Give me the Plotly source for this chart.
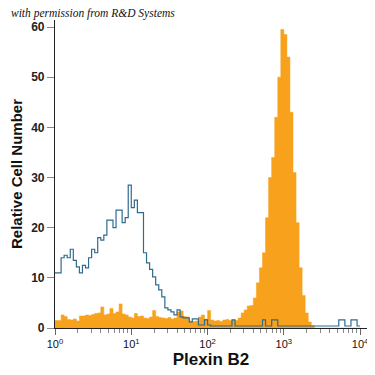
import numpy as np
import plotly.graph_objects as go

# log10 bin width (decades) and histogram counts
bin_width = 0.04
isotype_counts = [
    11, 11, 14, 14.5, 14, 15.7, 13.5, 12.2, 11, 12.5,
    12, 14, 15.7, 15, 18, 17.5, 18.5, 21.5, 21.5, 20,
    23.5, 23.5, 21, 22, 28.5, 24, 25.5, 23, 23, 15,
    13, 11.7, 10.2, 8.6, 7.6, 6.2, 4, 3.6, 3.2, 2.6,
    3.6, 2.2, 2, 2, 1.2, 1.8, 1.8, 0.6, 0.6, 1.6,
    0.6, 0.4, 0.4, 0.4, 0.4, 0.4, 0.4, 0.4, 1.6, 0.4,
    0.4, 0.4, 0.4, 0.4, 0.4, 0.4, 0.4, 0.4, 1.6, 0.4,
    0.4, 1.6, 1.6, 0.4, 0.4, 0.4, 0.4, 0.4, 0.4, 0.4,
    0.4, 0.4, 0.4, 0.4, 0.4, 0.4, 0.4, 0.4, 0.4, 0.4,
    0.4, 0.4, 0.4, 1.6, 1.6, 0.4, 0.4, 1.6, 1.6, 0.4,
]
plexin_counts = [
    1.5, 1.5, 2.6, 2.3, 1.7, 1.6, 1.8, 1.4, 2.4, 2.4,
    2.6, 2.5, 2.7, 2.9, 3.0, 4.2, 2.6, 2.8, 3.9, 2.9,
    3.2, 4.8, 2.8, 2.6, 2.2, 2.0, 2.9, 2.3, 2.4, 2.0,
    1.9, 2.2, 3.5, 2.3, 2.1, 2.0, 1.9, 2.1, 1.8, 2.0,
    3.2, 3.4, 2.3, 2.2, 1.4, 1.3, 1.4, 2.2, 2.6, 1.8,
    3.5, 1.6, 1.4, 1.5, 1.3, 1.6, 1.7, 1.5, 1.6, 1.5,
    2.0, 3.0, 3.6, 4.4, 4.5, 6, 9, 12, 15, 22,
    30, 34, 42, 50, 59.5, 58.5, 54, 43, 31, 21,
    12, 6.5, 3, 1.2, 0.5, 0, 0, 0, 0, 0,
    0, 0, 0, 0, 0, 0, 0, 0, 0, 0,
]
x_tick_vals = [1, 10, 100, 1000, 10000]
x_tick_text = ["10<sup>0</sup>", "10<sup>1</sup>", "10<sup>2</sup>", "10<sup>3</sup>", "10<sup>4</sup>"]
y_tick_vals = [0, 10, 20, 30, 40, 50, 60]

edges = 10 ** (bin_width * np.arange(len(plexin_counts) + 1))
plex_y = plexin_counts + [plexin_counts[-1]]
iso_y = isotype_counts + [isotype_counts[-1]]

minor_vals = [m * 10 ** k for k in range(4) for m in range(2, 10)]

fig = go.Figure()
fig.add_trace(go.Scatter(
    x=edges, y=plex_y, mode="lines", line=dict(shape="hv", color="#F7A11C", width=0.5),
    fill="tozeroy", fillcolor="#F7A11C", showlegend=False, hoverinfo="skip"))
fig.add_trace(go.Scatter(
    x=edges, y=iso_y, mode="lines", line=dict(shape="hv", color="#2F6B8F", width=1.2),
    showlegend=False, hoverinfo="skip"))

# the page adds an 8px body margin, so the figure is 367px and offset by 8px
fig.update_layout(
    width=367, height=367,
    margin=dict(l=47, r=8, t=12, b=47, autoexpand=False),
    paper_bgcolor="white", plot_bgcolor="white",
    font=dict(family="Liberation Sans, Arial, sans-serif", color="#111111"),
)
fig.update_xaxes(
    type="log", range=[0, 4.09], automargin=False,
    tickvals=x_tick_vals, ticktext=x_tick_text,
    tickfont=dict(size=11, color="#111111", family="Liberation Sans, Arial, sans-serif"),
    ticks="outside", ticklen=6, tickcolor="#666666", tickwidth=1,
    minor=dict(tickvals=minor_vals, ticks="outside", ticklen=4, tickcolor="#888888", tickwidth=1),
    showline=True, linecolor="#222222", linewidth=1.2,
    showgrid=False, zeroline=False,
    title=dict(text="<b>Plexin B2</b>", font=dict(size=17, color="#111111"), standoff=0),
)
fig.update_yaxes(
    range=[0, 61.4], automargin=False,
    tickvals=y_tick_vals, ticktext=[f"<b>{v}</b>" for v in y_tick_vals],
    tickfont=dict(size=12, color="#222222"),
    ticks="outside", ticklen=7, tickcolor="#888888", tickwidth=1,
    showline=True, linecolor="#222222", linewidth=1.2,
    showgrid=False, zeroline=False,
    title=dict(text="<b>Relative Cell Number</b>", font=dict(size=15, color="#111111"), standoff=13),
)
fig.add_annotation(
    text="<i>with permission from R&amp;D Systems</i>",
    xref="paper", yref="paper", x=-0.144, y=1.0, xanchor="left", yanchor="bottom",
    yshift=-1, showarrow=False, borderpad=0,
    font=dict(family="Liberation Serif, DejaVu Serif, serif", size=11.5, color="#111111"),
)
fig.write_html("out.html")
